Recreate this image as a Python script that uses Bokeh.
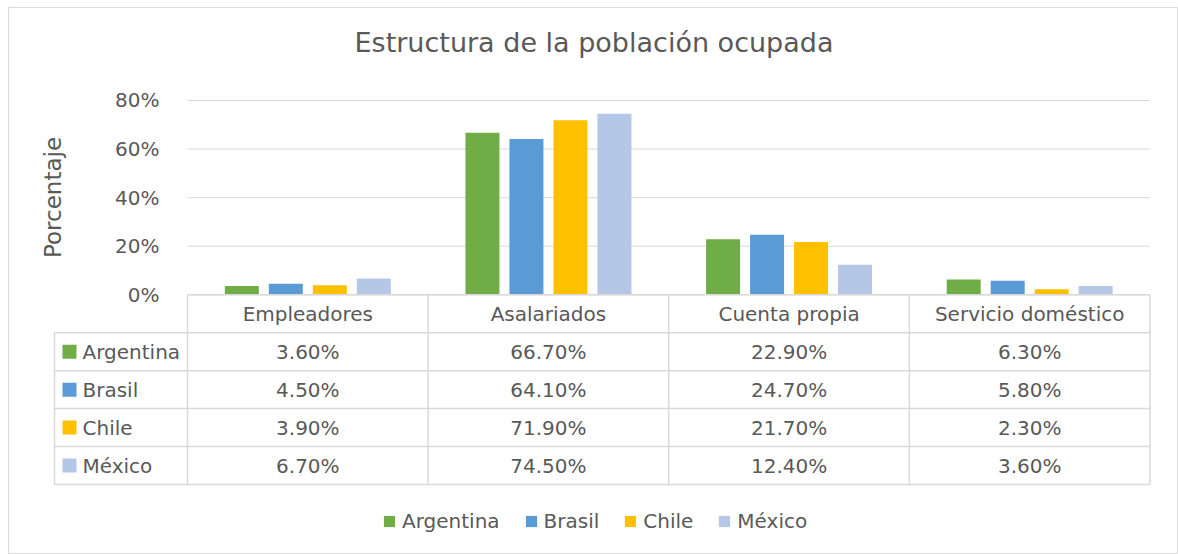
from bokeh.plotting import figure
from bokeh.models import (Range1d, LinearAxis, FixedTicker, PrintfTickFormatter,
                          Legend, LegendItem)
from bokeh.core.properties import value
from bokeh.embed import file_html
from bokeh.resources import INLINE

# ---------------- data ----------------
title = "Estructura de la población ocupada"
y_label = "Porcentaje"
categories = ["Empleadores", "Asalariados", "Cuenta propia", "Servicio doméstico"]
countries = ["Argentina", "Brasil", "Chile", "México"]
argentina = [3.6, 66.7, 22.9, 6.3]
brasil = [4.5, 64.1, 24.7, 5.8]
chile = [3.9, 71.9, 21.7, 2.3]
mexico = [6.7, 74.5, 12.4, 3.6]
y_ticks = [0, 20, 40, 60, 80]
colors = ["#70AD47", "#5B9BD5", "#FFC000", "#B4C7E7"]
series = [argentina, brasil, chile, mexico]

# ---------------- layout (page pixels) ----------------
FONT = "DejaVu Sans"
TXT = "#595959"
LINE = "#D9D9D9"
W, H = 1178, 554
FL, FT, FR = 8, 7, 1177      # chart frame edges
PX0 = 187.0          # x of plot-area left
UNIT = 240.625       # px per category
Y0 = 294.3           # y of 0 %
YS = 2.4288          # px per percent
ROW = 37.94          # table row height px
BARW = 34 / UNIT
PITCH = 44 / UNIT
ncat = len(categories)
XL = (54 - PX0) / UNIT      # table left edge
XSQ = (69 - PX0) / UNIT     # legend squares in table
XTX = (82 - PX0) / UNIT     # series names in table

x_range = Range1d((FL - PX0) / UNIT, (FR - PX0) / UNIT)
y_range = Range1d(-(H - Y0) / YS, (Y0 - FT) / YS)

p = figure(width=W, height=H, x_range=x_range, y_range=y_range,
           output_backend="svg", toolbar_location=None,
           x_axis_location=None, y_axis_location=None,
           min_border_left=FL, min_border_top=FT, min_border_right=W - FR,
           min_border_bottom=0,
           outline_line_color=LINE, outline_line_width=1,
           background_fill_color="white", border_fill_color="white")
p.extra_y_ranges = {"tbl": Range1d(-(H - Y0) / ROW, (Y0 - FT) / ROW)}
p.grid.visible = False

# y axis placed at the left edge of the plot area
yaxis = LinearAxis(fixed_location=0, bounds=(y_ticks[0], y_ticks[-1]),
                   ticker=FixedTicker(ticks=y_ticks),
                   formatter=PrintfTickFormatter(format="%d%%"),
                   axis_label=y_label)
yaxis.axis_line_color = None
yaxis.major_tick_line_color = None
yaxis.minor_tick_line_color = None
yaxis.major_label_standoff = 22
yaxis.major_label_text_font = FONT
yaxis.major_label_text_font_size = "20px"
yaxis.major_label_text_color = TXT
yaxis.axis_label_text_font = FONT
yaxis.axis_label_text_font_size = "23px"
yaxis.axis_label_text_font_style = "normal"
yaxis.axis_label_text_color = TXT
yaxis.axis_label_standoff = 46
p.add_layout(yaxis, "left")

# gridlines at tick values
p.segment(x0=[0] * len(y_ticks), x1=[ncat] * len(y_ticks), y0=y_ticks, y1=y_ticks,
          line_color=LINE, line_width=1)

# bars
items = []
for i, (name, vals, col) in enumerate(zip(countries, series, colors)):
    xs = [c + 0.5 + (i - 1.5) * PITCH for c in range(ncat)]
    r = p.vbar(x=xs, top=vals, bottom=0, width=BARW, fill_color=col, line_color=None)
    items.append(LegendItem(label=name, renderers=[r]))

# data table
nrow = len(countries) + 1
vx0 = list(range(ncat + 1)) + [XL]
vy0 = [0] * (ncat + 1) + [-1]
p.segment(x0=vx0, x1=vx0, y0=vy0, y1=[-nrow] * len(vx0),
          line_color=LINE, line_width=1.5, y_range_name="tbl")
hy = [0] + [-(k + 1) for k in range(len(countries) + 1)]
hx0 = [0] + [XL] * (len(countries) + 1)
p.segment(x0=hx0, x1=[ncat] * len(hy), y0=hy, y1=hy,
          line_color=LINE, line_width=1.5, y_range_name="tbl")

p.text(x=[c + 0.5 for c in range(ncat)], y=[-0.5] * ncat, text=categories,
       y_range_name="tbl", text_align="center", text_baseline="middle",
       text_font=value(FONT), text_font_size="20px", text_color=TXT)

cx, cy, ct = [], [], []
for i, vals in enumerate(series):
    for c, v in enumerate(vals):
        cx.append(c + 0.5)
        cy.append(-(i + 1) - 0.5)
        ct.append(f"{v:.2f}%")
p.text(x=cx, y=cy, text=ct, y_range_name="tbl", text_align="center",
       text_baseline="middle", text_font=value(FONT), text_font_size="20px",
       text_color=TXT)

ry = [-(i + 1) - 0.5 for i in range(len(countries))]
p.scatter(x=[XSQ] * len(countries), y=ry, marker="square", size=14,
          fill_color=colors, line_color=None, y_range_name="tbl")
p.text(x=[XTX] * len(countries), y=ry, text=countries, y_range_name="tbl",
       text_align="left", text_baseline="middle", text_font=value(FONT),
       text_font_size="20px", text_color=TXT)

# title
p.text(x=[(593.5 - PX0) / UNIT], y=[(Y0 - 42) / YS], text=[title],
       text_align="center", text_baseline="middle", text_font=value(FONT),
       text_font_size="27px", text_color=TXT)

legend = Legend(items=items, orientation="horizontal", location=(382 - FL, 21),
                glyph_width=14, glyph_height=14, label_standoff=6, spacing=24,
                padding=0, margin=0, border_line_color=None,
                background_fill_alpha=0, label_text_font=FONT,
                label_text_font_size="20px", label_text_color=TXT)
p.add_layout(legend)

open("out.html", "w").write(file_html(p, INLINE))
